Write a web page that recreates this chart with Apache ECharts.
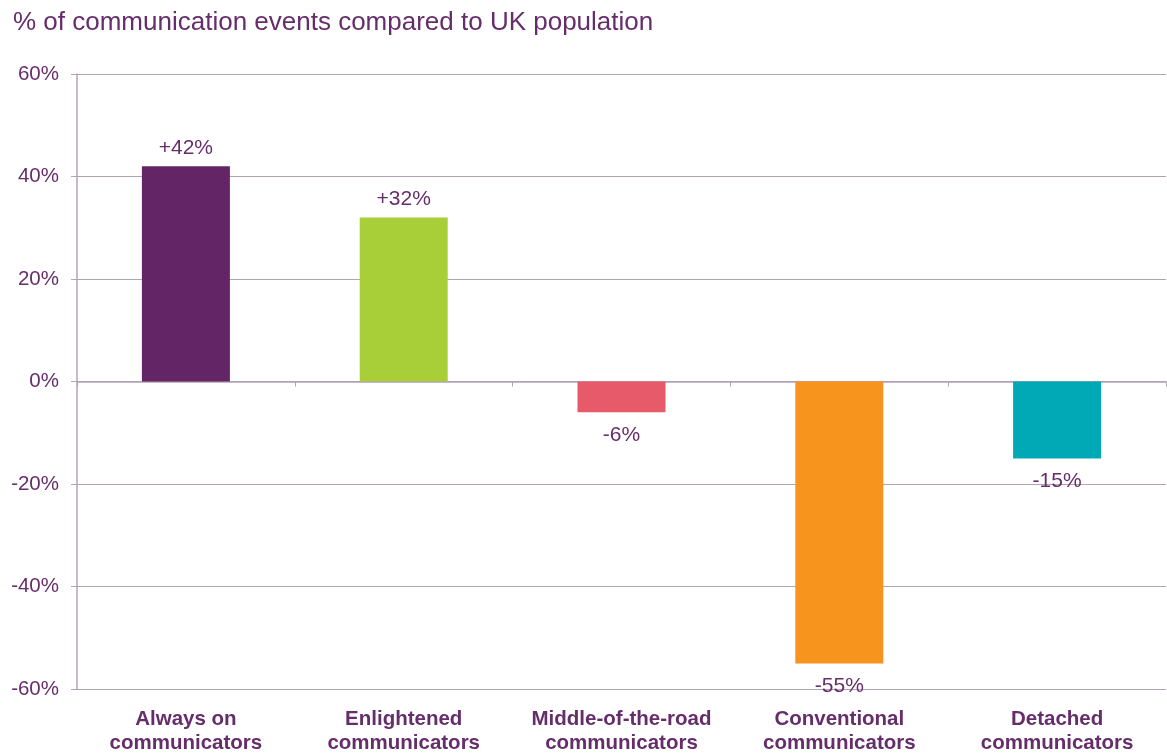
<!DOCTYPE html>
<html>
<head>
<meta charset="utf-8">
<style>
  html, body { margin: 0; padding: 0; background: #ffffff; }
  #chart { width: 1167px; height: 755px; }
</style>
<script src="https://cdn.jsdelivr.net/npm/echarts@6/dist/echarts.min.js"></script>
</head>
<body>
<div id="chart"></div>
<script>
// Communicator segments and their communication events relative to the UK average
const categories = [
  'Always on\ncommunicators',
  'Enlightened\ncommunicators',
  'Middle-of-the-road\ncommunicators',
  'Conventional\ncommunicators',
  'Detached\ncommunicators'
];
const values = [42, 32, -6, -55, -15];
const barColors = ['#642566', '#a8cf38', '#e65a6a', '#f7941e', '#00a9b5'];
const yTicks = { min: -60, max: 60, interval: 20 };

const purple = '#662d6b';
const gridColor = '#b2a3b5';
const font = '"Liberation Sans", Arial, sans-serif';

const chart = echarts.init(document.getElementById('chart'));

chart.setOption({
  backgroundColor: '#ffffff',
  animation: false,
  title: {
    text: '% of communication events compared to UK population',
    left: 8,
    top: 5,
    textStyle: { color: purple, fontFamily: font, fontSize: 26, fontWeight: 'normal' }
  },
  grid: { left: 77, right: 1, top: 74, bottom: 55, containLabel: false },
  xAxis: [
    {
      type: 'category',
      data: categories,
      axisLine: { onZero: true, lineStyle: { color: gridColor, width: 1.5 } },
      axisTick: { show: true, length: 5, alignWithLabel: false, lineStyle: { color: gridColor } },
      axisLabel: { show: false },
      splitLine: { show: false }
    },
    {
      type: 'category',
      data: categories,
      position: 'bottom',
      axisLine: { show: false },
      axisTick: { show: false },
      axisLabel: {
        show: true,
        interval: 0,
        margin: 18,
        color: purple,
        fontFamily: font,
        fontSize: 20.5,
        fontWeight: 'bold',
        lineHeight: 24
      }
    }
  ],
  yAxis: {
    type: 'value',
    min: yTicks.min,
    max: yTicks.max,
    interval: yTicks.interval,
    axisLine: { show: true, lineStyle: { color: gridColor, width: 1.5 } },
    axisTick: { show: true, inside: false, length: 6, lineStyle: { color: gridColor } },
    axisLabel: {
      margin: 18,
      color: purple,
      fontFamily: font,
      fontSize: 20.5,
      formatter: v => v + '%'
    },
    splitLine: { show: true, lineStyle: { color: gridColor, width: 1.2 } }
  },
  series: [{
    type: 'bar',
    xAxisIndex: 0,
    barWidth: 88,
    data: values.map((v, i) => ({
      value: v,
      itemStyle: { color: barColors[i] },
      label: { position: v >= 0 ? 'top' : 'bottom', distance: v >= 0 ? 8 : 12 }
    })),
    label: {
      show: true,
      color: purple,
      fontFamily: font,
      fontSize: 21,
      formatter: p => (p.value > 0 ? '+' : '') + p.value + '%'
    }
  }]
});
</script>
</body>
</html>
